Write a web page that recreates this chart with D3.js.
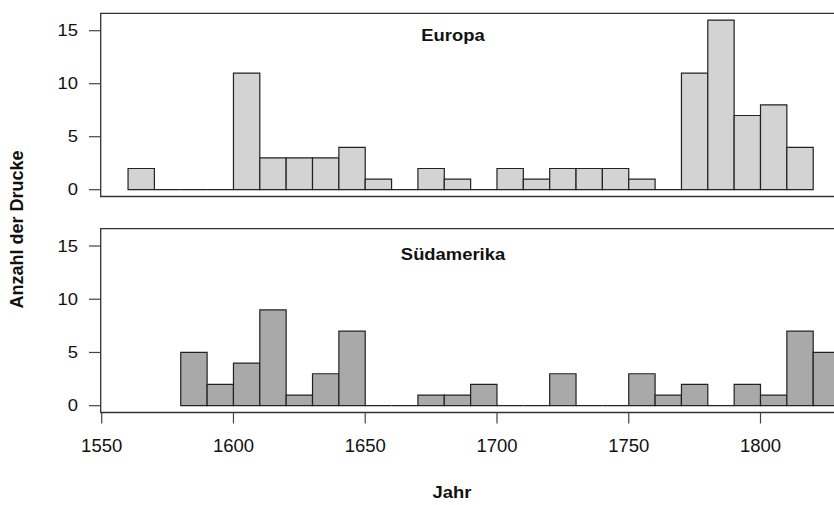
<!DOCTYPE html>
<html>
<head>
<meta charset="utf-8">
<script src="https://d3js.org/d3.v7.min.js"></script>
<style>
    body { margin: 0; background: #fff; }
    text { font-family: "Liberation Sans", Arial, Helvetica, sans-serif; fill: #111; }
</style>
</head>
<body>
<script>
// Drucke pro Jahrzehnt (Klassenbreite 10 Jahre)
var binWidth = 10;
var europaStart = 1560;
var europaCounts = [2, 0, 0, 0, 11, 3, 3, 3, 4, 1, 0, 2, 1, 0, 2, 1, 2, 2, 2, 1, 0, 11, 16, 7, 8, 4];
var suedStart = 1580;
var suedCounts = [5, 2, 4, 9, 1, 3, 7, 0, 0, 1, 1, 2, 0, 0, 3, 0, 0, 3, 1, 2, 0, 2, 1, 7, 5];
var xTicks = [1550, 1600, 1650, 1700, 1750, 1800];
var yTicks = [0, 5, 10, 15];
var panelTitles = ["Europa", "Südamerika"];

function toBins(start, counts) {
    return counts.map(function(c, i) {
        return { x0: start + i * binWidth, x1: start + (i + 1) * binWidth, n: c };
    });
}

var panels = [
    { title: panelTitles[0], bins: toBins(europaStart, europaCounts), fill: "#d3d3d3", top: 30.7, zero: 189.7, titleY: 41 },
    { title: panelTitles[1], bins: toBins(suedStart, suedCounts), fill: "#a9a9a9", top: 246, zero: 405.7, titleY: 260 }
];

var svg = d3.select("body").append("svg")
    .attr("width", 834)
    .attr("height", 505);

var x = d3.scaleLinear().domain([1550, 1800]).range([101.7, 760.5]);
var boxLeft = 100.7;
var boxRight = 840;
var sx = 1.15; // labels look a bit wider than tall

panels.forEach(function(p, pi) {
    var y = d3.scaleLinear().domain([0, 15]).range([p.zero, p.top]);
    var g = svg.append("g");

    // bars (zero bins are drawn as flat lines like in R)
    g.selectAll("path.bar")
        .data(p.bins)
        .enter()
        .append("path")
        .attr("class", "bar")
        .attr("d", function(d) {
            return "M" + x(d.x0) + "," + y(0) + "V" + y(d.n) + "H" + x(d.x1) + "V" + y(0) + "Z";
        })
        .attr("fill", p.fill)
        .attr("stroke", "#222")
        .attr("stroke-width", 1.2);

    // box: top, left, bottom
    var bTop = y(16.64), bBot = y(-0.64);
    g.append("path")
        .attr("d", "M" + boxRight + "," + bTop + "H" + boxLeft + "V" + bBot + "H" + boxRight)
        .attr("fill", "none")
        .attr("stroke", "#333")
        .attr("stroke-width", 1.3);

    // y axis ticks
    g.selectAll("line.yt")
        .data(yTicks)
        .enter()
        .append("line")
        .attr("x1", boxLeft - 11.7)
        .attr("x2", boxLeft)
        .attr("y1", function(d) { return y(d); })
        .attr("y2", function(d) { return y(d); })
        .attr("stroke", "#444")
        .attr("stroke-width", 1.2);

    g.selectAll("text.yl")
        .data(yTicks)
        .enter()
        .append("text")
        .attr("text-anchor", "end")
        .attr("font-size", 16)
        .attr("dy", "0.36em")
        .attr("transform", function(d) {
            return "translate(78," + y(d) + ") scale(" + sx + ",1)";
        })
        .text(function(d) { return d; });

    // title
    svg.append("text")
        .attr("text-anchor", "middle")
        .attr("font-size", 16)
        .attr("font-weight", "bold")
        .attr("transform", "translate(453," + p.titleY + ") scale(" + sx + ",1)")
        .text(p.title);

    // x axis only on the lower panel
    if (pi === 1) {
        g.selectAll("line.xt")
            .data(xTicks)
            .enter()
            .append("line")
            .attr("x1", function(d) { return x(d); })
            .attr("x2", function(d) { return x(d); })
            .attr("y1", bBot)
            .attr("y2", bBot + 11)
            .attr("stroke", "#444")
            .attr("stroke-width", 1.2);

        g.selectAll("text.xl")
            .data(xTicks)
            .enter()
            .append("text")
            .attr("text-anchor", "middle")
            .attr("font-size", 18.5)
            .attr("x", function(d) { return x(d); })
            .attr("y", 452)
            .text(function(d) { return d; });
    }
});

svg.append("text")
    .attr("text-anchor", "middle")
    .attr("font-size", 16)
    .attr("font-weight", "bold")
    .attr("transform", "translate(452,498) scale(" + sx + ",1)")
    .text("Jahr");

svg.append("text")
    .attr("text-anchor", "middle")
    .attr("font-size", 18)
    .attr("font-weight", "bold")
    .attr("transform", "translate(23,229.5) rotate(-90)")
    .text("Anzahl der Drucke");
</script>
</body>
</html>
